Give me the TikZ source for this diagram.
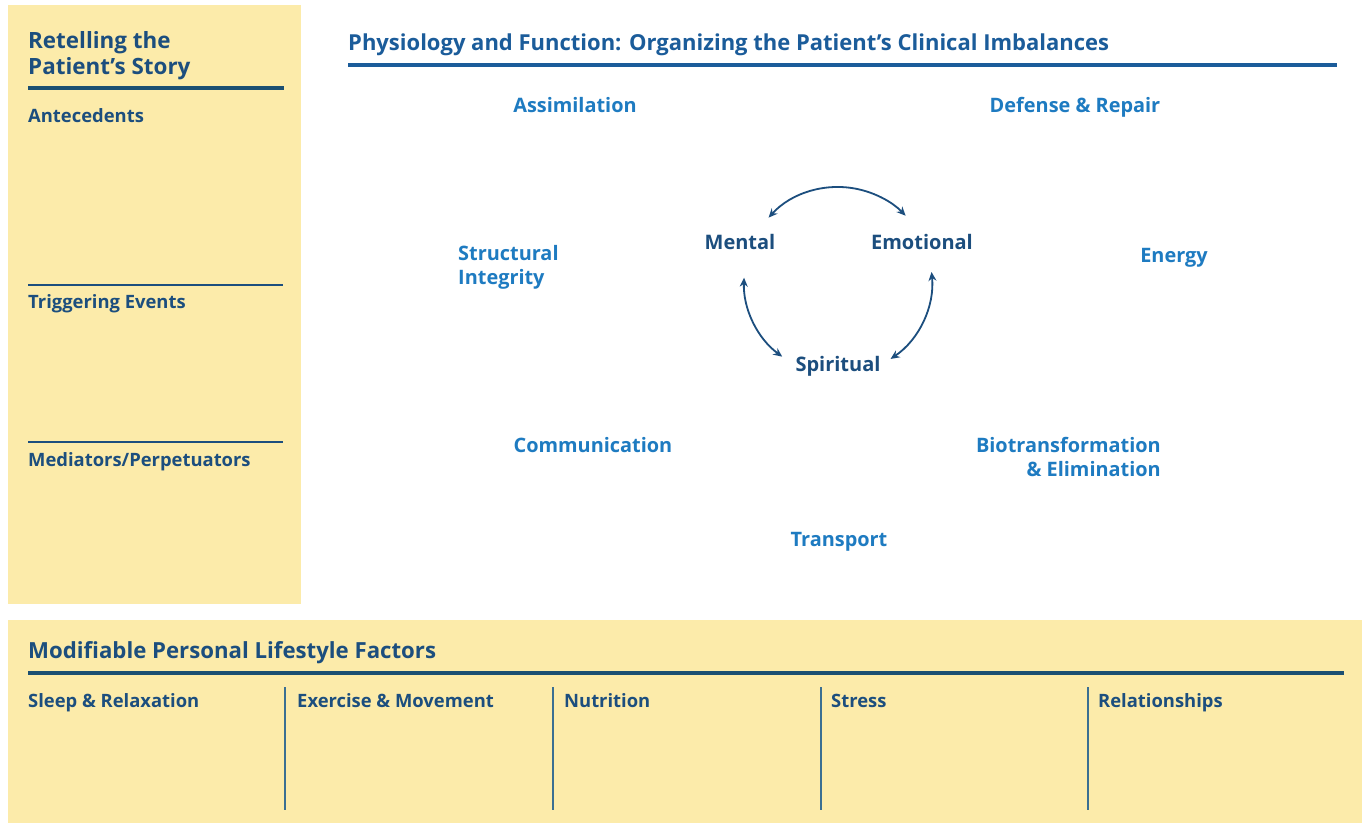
\documentclass[tikz,border=0pt]{standalone}
\usepackage{fontspec}
\setmainfont{Open Sans}
\usetikzlibrary{arrows.meta}
\definecolor{panel}{HTML}{FCEBAA}
\definecolor{navy}{HTML}{1C4E7E}
\definecolor{titleblue}{HTML}{1B5C9A}
\definecolor{sysblue}{HTML}{1E7BC1}
\definecolor{rulenavy}{HTML}{1B4F72}
\definecolor{colline}{HTML}{3B6F92}
\begin{document}
\begin{tikzpicture}[x=1pt,y=1pt,
  head/.style={anchor=base west, inner sep=0, text=navy, align=left, font=\fontsize{22.4}{26}\selectfont\bfseries},
  title/.style={anchor=base west, inner sep=0, text=titleblue, font=\fontsize{22}{25}\selectfont\bfseries},
  sub/.style={anchor=base west, inner sep=0, text=navy, font=\fontsize{18.4}{20}\selectfont\bfseries},
  sys/.style={inner sep=0, text=sysblue, font=\fontsize{19.9}{23.5}\selectfont\bfseries},
  core/.style={anchor=base, inner sep=0, text=navy, font=\fontsize{20}{23}\selectfont\bfseries},
  thickrule/.style={draw=rulenavy, line width=3.5pt},
  thinrule/.style={draw=navy, line width=1.6pt},
  colrule/.style={draw=colline, line width=1.6pt},
  twoway/.style={draw=navy, line width=1.8pt, {Stealth[length=9pt,width=8pt]}-{Stealth[length=9pt,width=8pt]}}
]
\useasboundingbox (0,0) rectangle (1366,-823);
\fill[white] (0,0) rectangle (1366,-823);
% panels
\fill[panel] (8,-5) rectangle (301,-604);
\fill[panel] (8,-620) rectangle (1362,-823);

% left panel
\node[head] (story) at (28,-74) {Retelling the\\Patient’s Story};
\draw[thickrule] (28,-88) -- (284,-88);
\node[sub] (ante) at (28,-122) {Antecedents};
\draw[thinrule] (28,-285) -- (283,-285);
\node[sub] (trig) at (28,-308) {Triggering Events};
\draw[thinrule] (28,-442) -- (283,-442);
\node[sub] (medi) at (28,-466) {Mediators/Perpetuators};

% title
\node[title] (ttl) at (348,-50) {Physiology and Function: Organizing the Patient’s Clinical Imbalances};
\draw[draw=titleblue, line width=3.5pt] (348,-65) -- (1337,-65);

% systems
\node[sys, anchor=base] (assim) at (575,-112) {Assimilation};
\node[sys, anchor=base] (defense) at (1075,-112) {Defense \& Repair};
\node[sys, anchor=base west, align=left] (struct) at (458,-284) {Structural\\Integrity};
\node[sys, anchor=base] (energy) at (1174,-262) {Energy};
\node[sys, anchor=base] (comm) at (593,-452) {Communication};
\node[sys, anchor=base east, align=right] (bio) at (1161,-476) {Biotransformation\\\& Elimination};
\node[sys, anchor=base] (trans) at (839,-546) {Transport};

% core
\node[core] (mental) at (740,-249) {Mental};
\node[core] (emot) at (922,-249) {Emotional};
\node[core] (spirit) at (838,-371) {Spiritual};

\coordinate (hub) at (838,-281);
\path (hub) ++(137.6:94) coordinate (t1);
\path (hub) ++(178:94) coordinate (l1);
\path (hub) ++(5.5:94) coordinate (r1);
\draw[twoway] (t1) arc[start angle=137.6, end angle=44, radius=94];
\draw[twoway] (l1) arc[start angle=178, end angle=233.6, radius=94];
\draw[twoway] (r1) arc[start angle=5.5, end angle=-56, radius=94];

% bottom panel
\node[head, font=\fontsize{22.2}{25}\selectfont\bfseries] (mod) at (28,-658) {Modifiable Personal Lifestyle Factors};
\draw[thickrule] (28,-673) -- (1344,-673);
\node[sub] (sleep) at (28,-707) {Sleep \& Relaxation};
\node[sub] (exer) at (297,-707) {Exercise \& Movement};
\node[sub] (nutr) at (564,-707) {Nutrition};
\node[sub] (stress) at (831,-707) {Stress};
\node[sub] (rel) at (1098,-707) {Relationships};
\foreach \x in {285,553,821,1088} \draw[colrule] (\x,-687) -- (\x,-810);
\end{tikzpicture}
\end{document}
